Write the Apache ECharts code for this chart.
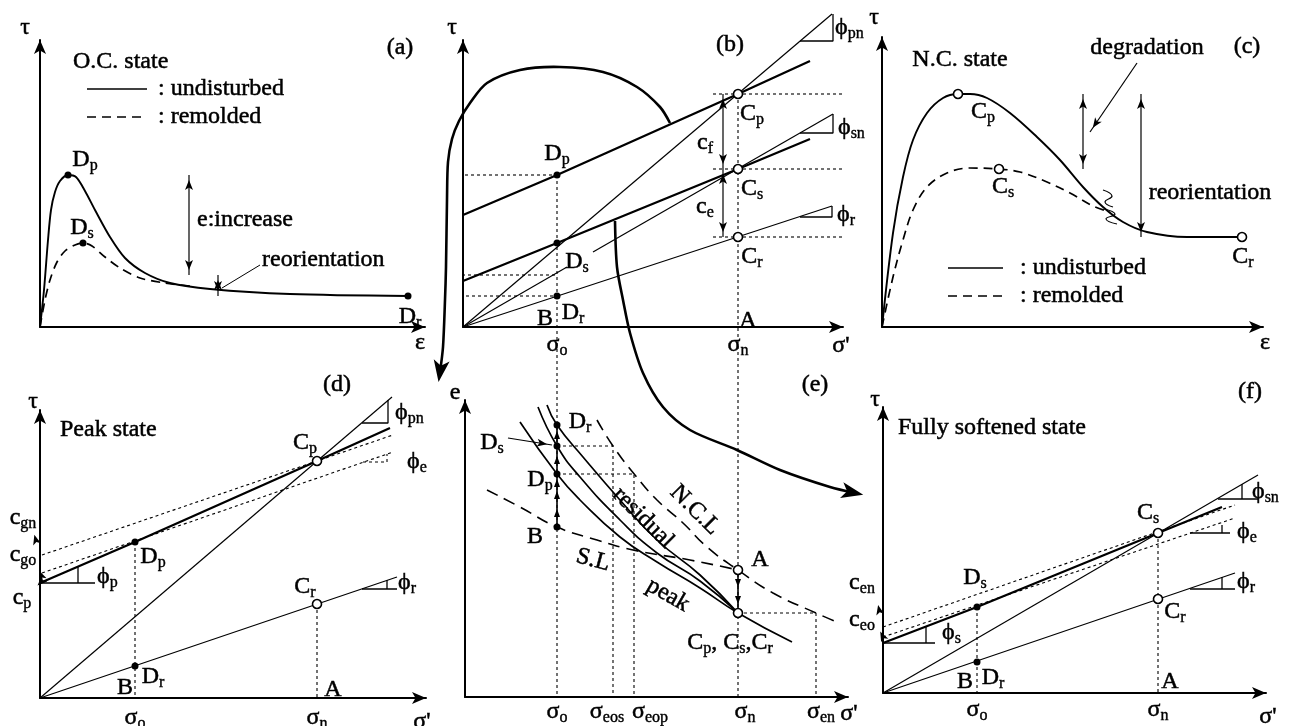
<!DOCTYPE html>
<html><head><meta charset="utf-8">
<script src="https://cdn.jsdelivr.net/npm/echarts@6/dist/echarts.min.js"></script>
<style>html,body{margin:0;padding:0;background:#fff}#c{width:1291px;height:726px}</style>
</head><body><div id="c"></div>
<script>
// ================= DATA (panel units: 1 unit of σ', τ, ε, e) =================
// (a) O.C. state : τ–ε
const aUndisturbed = [[0,0],[4,37],[8,87],[11,117],[15,135],[20,146],[28,152],[36,150],[45,136],[55,117],[70,90],[85,69],[105,54],[130,44],[170,38],[250,33],[368,31]];
const aRemolded = [[0,0],[5,27],[10,47],[17,65],[25,76],[35,82],[43,84],[52,81],[65,70],[80,59],[100,49],[125,44],[150,41]];
const aPointsD = [[28,152],[43,84],[368,31]];
// (b) τ–σ' envelopes
const bPeakLine = [[0,112],[94,152],[275,233],[347,266]];
const bSoftLine = [[0,46],[94,84],[275,158],[347,188]];
const bPhiPn = [[0,0],[369,313]];
const bPhiSnA = [[0,0],[104,60]];
const bPhiSnB = [[130,75],[370,213]];
const bPhiR = [[0,0],[369,121]];
const bPointsD = [[94,152],[94,84],[94,31]];
const bPointsC = [[275,233],[275,158],[275,90]];
const levelsFromA = [152,52,31];
const levelsToC = [233,158,90];
const arcPeak = [[207,204],[197,220],[174,240],[140,255],[97,260],[57,257],[24,244],[7,224],[-4,206],[-11,188],[-15,165],[-16,127],[-17,60],[-18,27],[-20,-20],[-23,-45]];
const arcSoft = [[152,106],[154,60],[160,27],[167,-6],[180,-46],[200,-80],[227,-103],[274,-123],[317,-143],[367,-160],[392,-166]];
// (c) N.C. state : τ–ε
const cUndisturbed = [[0,0],[11,94],[21,150],[31,187],[45,214],[61,229],[76,233],[88,233],[105,229],[128,214],[155,190],[178,167],[201,140],[221,120],[241,105],[265,95],[305,90],[360,90]];
const cRemolded = [[0,0],[11,50],[21,87],[31,117],[45,140],[65,154],[88,159],[117,158],[138,155],[165,145],[188,134],[211,121],[228,115]];
const cPointsC = [[76,233],[117,158],[360,90]];
const cBreakUpper = [[221,137],[230,131],[223,125],[231,120]];
const cBreakLower = [[222,118],[233,113],[224,108],[235,103]];
// (d) Peak state
const dPeakLine = [[0,115],[95,156],[277,237],[350,270]];
const dPhiPn = [[0,0],[352,301]];
const dPhiR = [[0,0],[357,121]];
const dUpperDash = [[2,143],[353,263]];
const dLowerDash = [[2,125],[353,246]];
const dPointsD = [[95,156],[95,32]];
const dPointsC = [[277,237],[277,94]];
// (e) e–σ'
const eNCL = [[132,277],[148,251],[170,222],[192,197],[218,174],[242,150],[273,127],[308,104],[351,84],[372,75]];
const eSL = [[22,207],[55,190],[92,170],[132,157],[168,147],[225,137],[273,127]];
const ePeak = [[55,275],[92,223],[115,197],[155,160],[192,135],[235,109],[273,84],[327,55]];
const eSoft = [[73,290],[92,251],[115,220],[155,177],[192,144],[235,116],[273,84]];
const eResidual = [[82,292],[92,272],[118,240],[155,197],[192,157],[235,122],[273,84]];
const ePointsD = [[92,170],[92,223],[92,251],[92,272]];
const ePointsC = [[273,127],[273,84]];
const eSigma = {o:92, eos:148, eop:169, n:273, en:351};
const eUpTicks = [184,202,214,237,262];
const eDownTicks = [114,97];
// (f) Fully softened state
const fSoftLine = [[0,50],[94,86],[275,160],[339,186]];
const fPhiSn = [[0,0],[375,218]];
const fPhiR = [[0,0],[352,120]];
const fUpperDash = [[0,66],[352,188]];
const fLowerDash = [[0,56],[352,175]];
const fPointsD = [[94,86],[94,31]];
const fPointsC = [[275,160],[275,94]];

// ================= STYLE / LAYOUT =================
const INK = '#000';
const FONT = '"Liberation Serif","Times New Roman",serif';
const layout = [
  {left:40, top:40, width:385, height:287},
  {left:463, top:40, width:380, height:287},
  {left:882, top:37, width:381, height:290},
  {left:40, top:410, width:386, height:288},
  {left:465, top:400, width:383, height:297},
  {left:883, top:407, width:383, height:286}
];
const RICH = {
  m: {fontFamily: FONT, fontSize: 24, color: INK, lineHeight: 26, textBorderColor: INK, textBorderWidth: 0.5},
  s: {fontFamily: FONT, fontSize: 16, color: INK, lineHeight: 14, padding: [11,0,0,0], textBorderColor: INK, textBorderWidth: 0.4}
};
const DOT = [3,3];
function rich(str){ return '{m|' + str.replace(/_([a-z]+)/g, '}{s|$1}{m|') + '}'; }
function ln(g, data, w, dash, smooth, z){
  return {type:'line', xAxisIndex:g, yAxisIndex:g, data:data, symbol:'none', clip:false, silent:true, animation:false,
    smooth: smooth||false, z: z||3, lineStyle:{color:INK, width:w, type: dash||'solid', opacity:1}};
}
// free-running smooth curve (may leave the axis range), drawn through the axes' own scales
function curve(g, data, w, sm){
  return {type:'custom', coordinateSystem:'cartesian2d', xAxisIndex:g, yAxisIndex:g, data:[[0,0]], clip:false, silent:true, animation:false, z:4,
    renderItem: function(params, api){
      return {type:'polyline', shape:{points: data.map(function(p){ return api.coord(p); }), smooth: sm},
        style:{stroke:INK, lineWidth:w, fill:null}};
    }};
}
function pts(g, data, open){
  return {type:'scatter', xAxisIndex:g, yAxisIndex:g, data:data, symbol:'circle', symbolSize: open?9:7, clip:false, silent:true, animation:false, z:20,
    itemStyle:{color: open?'#fff':INK, borderColor:INK, borderWidth: open?1.6:0, opacity:1}};
}
function head(g, from, to, w, h){
  const dx = to[0]-from[0], dy = to[1]-from[1], L = Math.hypot(dx,dy);
  const c = [to[0]-dx/L*h/2, to[1]-dy/L*h/2];
  return {type:'scatter', xAxisIndex:g, yAxisIndex:g, data:[c], symbol:'arrow', symbolSize:[w,h],
    symbolRotate: Math.atan2(dy,dx)*180/Math.PI - 90, clip:false, silent:true, animation:false, z:15, itemStyle:{color:INK, opacity:1}};
}
function arrow(g, a, b, both){
  const s = [ln(g,[a,b],1.2), head(g,a,b,6,10)];
  if (both) s.push(head(g,b,a,6,10));
  return s;
}
function ticks(g, data, down){
  return {type:'scatter', xAxisIndex:g, yAxisIndex:g, data:data, symbol:'triangle', symbolSize:[6,8], symbolRotate: down?180:0,
    clip:false, silent:true, animation:false, z:15, itemStyle:{color:INK, opacity:1}};
}
function texts(g, list){
  return {type:'scatter', xAxisIndex:g, yAxisIndex:g, symbolSize:1, clip:false, silent:true, animation:false, z:30,
    itemStyle:{color:'rgba(0,0,0,0)', opacity:1},
    data: list.map(function(it){ return {value:[it[1],it[2]], label:{show:true, position:'inside', opacity:1, color:INK, formatter: rich(it[0]),
      align: it[3]||'center', verticalAlign:'middle', rotate: it[4]||0, rich: RICH}}; })};
}

let S = [];
// ---------- (a) ----------
S.push(ln(0, aUndisturbed, 1.9, 'solid', 0.3));
S.push(ln(0, aRemolded, 1.7, [9,6], 0.3));
S.push(pts(0, aPointsD, false));
S.push(ln(0, [[47,238],[107,238]], 1.5), ln(0, [[47,210],[107,210]], 1.5, [9,6]));
S = S.concat(arrow(0,[149,152],[149,52],true), arrow(0,[178,52],[178,31],true));
S.push(ln(0, [[220,62],[182,39]], 1));
S.push(texts(0, [['τ',-15,299],['(a)',360,279],['O.C. state',33,265,'left'],[': undisturbed',118,238,'left'],[': remolded',118,210,'left'],
  ['D_p',45,167],['D_s',42,99],['e:increase',157,107,'left'],['reorientation',222,67,'left'],['D_r',370,10],['ε',380,-16]]));
// ---------- (b) ----------
const bLeft = [-388,-373,-333];
levelsFromA.forEach(function(v,i){ S.push(ln(1, [[bLeft[i],v],[94,v]], 1.1, DOT)); });
levelsToC.forEach(function(v){ S.push(ln(1, [[250,v],[765,v]], 1.1, DOT)); });
S.push(ln(1, bPeakLine, 2.3), ln(1, bSoftLine, 2.3), ln(1, bPhiPn, 1.2), ln(1, bPhiSnA, 1.2), ln(1, bPhiSnB, 1.2), ln(1, bPhiR, 1.2));
S.push(ln(1, [[337,286],[370,286],[370,313]], 1.3), ln(1, [[337,194],[370,194],[370,213]], 1.3), ln(1, [[337,110],[369,110],[369,121]], 1.3));
S = S.concat(arrow(1,[260,233],[260,158],true), arrow(1,[260,158],[260,90],true));
S.push(curve(1, arcPeak, 2.6, 0.3), head(1, [-23,-45], [-26,-66], 12, 22));
S.push(curve(1, arcSoft, 2.6, 0.3), head(1, [392,-166], [411,-170], 12, 22));
S.push(pts(1, bPointsD, false), pts(1, bPointsC, true));
S.push(texts(1, [['τ',-11,299],['(b)',267,282],['D_p',94,173],['D_s',114,65],['D_r',110,14],['B',82,8],['C_p',289,213],['C_s',289,138],['C_r',289,70],['A',285,6],
  ['c_f',242,184],['c_e',242,120],['ϕ_pn',372,299,'left'],['ϕ_sn',375,199,'left'],['ϕ_r',374,112,'left'],['σ_o',94,-18],['σ_n',275,-18],["σ'",378,-19]]));
// ---------- (c) ----------
S.push(ln(2, cUndisturbed, 1.9, 'solid', 0.35));
S.push(ln(2, cRemolded, 1.7, [9,6], 0.35));
S.push(ln(2, [[66,59],[121,59]], 1.5), ln(2, [[66,31],[121,31]], 1.5, [9,6]));
S = S.concat(arrow(2,[201,233],[201,158],true), arrow(2,[259,233],[259,90],true), arrow(2,[255,264],[208,195],false));
S.push(curve(2, cBreakUpper, 1.2, 0.5), curve(2, cBreakLower, 1.2, 0.5));
S.push(pts(2, cPointsC, true));
S.push(texts(2, [['τ',-8,309],['(c)',365,280],['N.C. state',78,267],['degradation',265,279],['reorientation',328,134],
  ['C_p',101,215],['C_s',121,140],['C_r',361,70],[': undisturbed',138,59,'left'],[': remolded',138,31,'left'],['ε',383,-16]]));
// ---------- (d) ----------
S.push(ln(3, dUpperDash, 1.1, DOT), ln(3, dLowerDash, 1.1, DOT));
S.push(ln(3, dPeakLine, 2.3), ln(3, dPhiPn, 1.2), ln(3, dPhiR, 1.2));
S.push(ln(3, [[95,156],[95,0]], 1.1, DOT), ln(3, [[277,94],[277,0]], 1.1, DOT));
S.push(ln(3, [[322,275],[348,275],[348,298]], 1.3), ln(3, [[323,236],[347,236],[347,244]], 1.1, DOT),
  ln(3, [[322,109],[357,109]], 1.3), ln(3, [[347,109],[347,118]], 1.3),
  ln(3, [[0,115],[55,115]], 1.3), ln(3, [[38,115],[38,131]], 1.3));
S = S.concat(arrow(3,[0,143],[-7,168],false), arrow(3,[0,125],[-3,132],false), arrow(3,[0,115],[-6,109],false));
S.push(pts(3, dPointsD, false), pts(3, dPointsC, true));
S.push(texts(3, [['τ',-7,296],['Peak state',20,268,'left'],['(d)',297,313],['C_p',265,255],['D_p',113,141],['C_r',265,111],['D_r',113,21],['B',85,10],['A',293,8],
  ['σ_o',95,-20],['σ_n',277,-20],["σ'",382,-24],['ϕ_pn',355,285,'left'],['ϕ_e',367,236,'left'],['ϕ_r',358,115,'left'],['ϕ_p',57,121,'left'],
  ['c_gn',-17,180],['c_go',-17,143],['c_p',-18,100]]));
// ---------- (e) ----------
S.push(ln(4, [[eSigma.o,522],[eSigma.o,0]], 1.1, DOT), ln(4, [[eSigma.n,603],[eSigma.n,0]], 1.1, DOT));
S.push(ln(4, [[eSigma.o,251],[eSigma.eos,251],[eSigma.eos,0]], 1.1, DOT), ln(4, [[eSigma.o,223],[eSigma.eop,223],[eSigma.eop,0]], 1.1, DOT),
  ln(4, [[eSigma.n,84],[eSigma.en,84],[eSigma.en,0]], 1.1, DOT));
S.push(ln(4, eNCL, 1.6, [12,7], true), ln(4, eSL, 1.6, [12,7], true));
S.push(ln(4, ePeak, 1.7, 'solid', true), ln(4, eSoft, 1.7, 'solid', true), ln(4, eResidual, 1.7, 'solid', true));
S.push(ln(4, [[92,170],[92,272]], 1.6), ln(4, [[273,127],[273,84]], 1.6));
S.push(ticks(4, eUpTicks.map(function(v){return [92,v];}), false), ticks(4, eDownTicks.map(function(v){return [273,v];}), true));
S = S.concat(arrow(4,[43,259],[87,252],false));
S.push(pts(4, ePointsD, false), pts(4, ePointsC, true));
S.push(texts(4, [['e',-10,304],['(e)',350,312],['D_r',115,275],['D_s',27,254],['D_p',75,217],['B',70,160],['A',295,137],['C_p, C_s,C_r',265,54],
  ['S.L',128,137,'center',-15],['residual',178,179,'center',-45],['N.C.L',230,187,'center',-45],['peak',203,102,'center',-30],
  ['σ_o',92,-15],['σ_eos',142,-15],['σ_eop',185,-15],['σ_n',280,-15],['σ_en',356,-15],["σ'",384,-17]]));
// ---------- (f) ----------
S.push(ln(5, fUpperDash, 1.1, DOT), ln(5, fLowerDash, 1.1, DOT));
S.push(ln(5, fSoftLine, 2.3), ln(5, fPhiSn, 1.2), ln(5, fPhiR, 1.2));
S.push(ln(5, [[94,86],[94,0]], 1.1, DOT), ln(5, [[275,160],[275,0]], 1.1, DOT));
S.push(ln(5, [[335,194],[375,194]], 1.3), ln(5, [[359,194],[359,209]], 1.3), ln(5, [[307,160],[347,160]], 1.3), ln(5, [[339,160],[339,168]], 1.3),
  ln(5, [[307,104],[352,104]], 1.3), ln(5, [[339,104],[339,116]], 1.3), ln(5, [[0,50],[52,50]], 1.3), ln(5, [[43,50],[43,66]], 1.3));
S = S.concat(arrow(5,[0,66],[-6,93],false), arrow(5,[0,56],[-5,66],false));
S.push(pts(5, fPointsD, false), pts(5, fPointsC, true));
S.push(texts(5, [['τ',-8,293],['(f)',367,301],['Fully softened state',15,265,'left'],['C_s',265,180],['D_s',92,115],['C_r',292,81],['D_r',110,15],['B',82,11],['A',287,11],
  ['σ_o',94,-17],['σ_n',275,-17],["σ'",385,-24],['ϕ_sn',369,201,'left'],['ϕ_e',354,161,'left'],['ϕ_r',354,111,'left'],['ϕ_s',59,60,'left'],
  ['c_en',-21,110],['c_eo',-21,73]]));

function axis(L, i, max){
  return {type:'value', gridIndex:i, min:0, max:max,
    axisLine:{show:true, onZero:false, symbol:['none','arrow'], symbolSize:[9,14], lineStyle:{color:INK, width:2}},
    axisTick:{show:false}, axisLabel:{show:false}, splitLine:{show:false}};
}
const chart = echarts.init(document.getElementById('c'), null, {renderer:'canvas'});
chart.setOption({
  backgroundColor:'#fff', animation:false,
  grid: layout.map(function(L){ return {left:L.left, top:L.top, width:L.width, height:L.height, containLabel:false, outerBoundsMode:'none'}; }),
  xAxis: layout.map(function(L,i){ return axis(L,i,L.width); }),
  yAxis: layout.map(function(L,i){ return axis(L,i,L.height); }),
  tooltip:{show:false},
  series: S
});
</script></body></html>
